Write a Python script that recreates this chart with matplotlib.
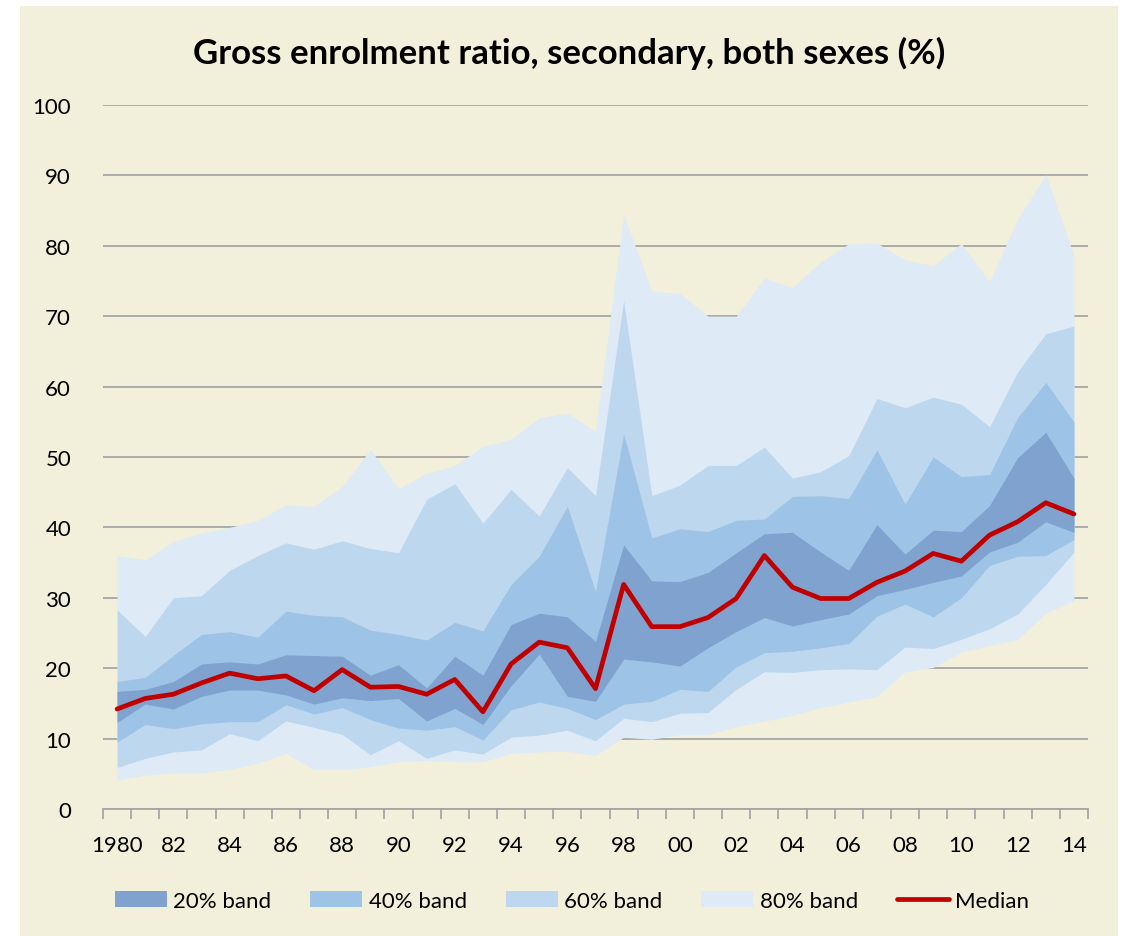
import numpy as np
import matplotlib
matplotlib.use("Agg")
import matplotlib.pyplot as plt
from matplotlib.patches import Rectangle
from matplotlib.ticker import MultipleLocator, FixedLocator

plt.rcParams["font.family"] = ["Lato", "DejaVu Sans"]

years = list(range(1980, 2015))
tick_labels = ["1980"] + ["%02d" % (y % 100) for y in range(1982, 2015, 2)]

# percentile boundaries of the bands
p10 = [4.1, 4.8, 5.1, 5.1, 5.6, 6.5, 7.9, 5.6, 5.6, 6.0, 6.7, 6.9, 6.7, 6.7, 7.9, 8.1, 8.2, 7.6,
       10.2, 9.9, 10.6, 10.6, 11.7, 12.5, 13.3, 14.4, 15.2, 16.0, 19.5, 20.1, 22.3, 23.2, 24.1, 27.8, 29.6]
p20 = [5.9, 7.2, 8.1, 8.4, 10.7, 9.7, 12.5, 11.6, 10.6, 7.7, 9.7, 7.2, 8.4, 7.8, 10.2, 10.5, 11.2, 9.7,
       12.9, 12.4, 13.6, 13.7, 17.0, 19.5, 19.4, 19.8, 19.9, 19.8, 23.0, 22.8, 24.1, 25.6, 27.7, 31.9, 36.5]
p30 = [9.5, 12.0, 11.4, 12.1, 12.4, 12.4, 14.8, 13.5, 14.4, 12.7, 11.5, 11.2, 11.7, 9.8, 14.1, 15.2, 14.3, 12.7,
       14.9, 15.3, 17.0, 16.7, 20.2, 22.2, 22.4, 22.9, 23.5, 27.4, 29.1, 27.3, 30.0, 34.6, 35.9, 36.0, 38.3]
p40 = [12.3, 14.9, 14.2, 16.0, 16.9, 16.9, 16.2, 14.9, 15.8, 15.4, 15.7, 12.5, 14.3, 12.0, 17.5, 22.0, 16.0, 15.3,
       21.3, 20.9, 20.3, 22.9, 25.2, 27.2, 26.0, 26.9, 27.7, 30.3, 31.2, 32.2, 33.1, 36.5, 37.9, 40.8, 39.3]
median = [14.2, 15.7, 16.3, 17.9, 19.3, 18.5, 18.9, 16.8, 19.8, 17.3, 17.4, 16.3, 18.4, 13.8, 20.6, 23.7, 22.9, 17.1,
          31.9, 25.9, 25.9, 27.2, 29.9, 36.0, 31.5, 29.9, 29.9, 32.2, 33.8, 36.3, 35.2, 38.9, 40.8, 43.5, 41.9]
p60 = [16.7, 17.0, 18.1, 20.6, 20.9, 20.6, 21.9, 21.8, 21.7, 19.0, 20.5, 17.2, 21.7, 19.0, 26.2, 27.8, 27.3, 23.8,
       37.5, 32.4, 32.3, 33.6, 36.4, 39.1, 39.3, 36.5, 33.9, 40.4, 36.2, 39.6, 39.4, 43.1, 49.9, 53.5, 47.0]
p70 = [18.1, 18.7, 21.8, 24.8, 25.2, 24.4, 28.1, 27.5, 27.3, 25.4, 24.8, 24.0, 26.5, 25.3, 31.9, 35.9, 43.0, 30.9,
       53.3, 38.5, 39.8, 39.4, 41.0, 41.2, 44.4, 44.5, 44.1, 51.0, 43.3, 50.0, 47.2, 47.5, 55.6, 60.6, 55.0]
p80 = [28.3, 24.5, 30.0, 30.3, 33.9, 36.0, 37.8, 36.9, 38.1, 37.0, 36.4, 44.0, 46.2, 40.6, 45.4, 41.6, 48.5, 44.5,
       72.2, 44.5, 46.0, 48.8, 48.8, 51.4, 47.0, 47.9, 50.2, 58.3, 57.0, 58.5, 57.5, 54.3, 62.1, 67.5, 68.6]
p90 = [36.0, 35.4, 38.0, 39.2, 40.0, 41.0, 43.2, 43.0, 45.8, 51.1, 45.5, 47.7, 48.8, 51.5, 52.5, 55.6, 56.2, 53.6,
       84.4, 73.6, 73.2, 70.0, 70.0, 75.4, 74.1, 77.7, 80.3, 80.4, 78.0, 77.2, 80.3, 74.9, 83.8, 90.1, 78.6]

bg = "#F2F0DA"
grid_col = "#A6A6A6"

fig = plt.figure(figsize=(11.23, 9.37), dpi=100)
fig.patch.set_facecolor("white")
fig.patches.append(Rectangle((20 / 1123, 0), 1098 / 1123, 930 / 937,
                             transform=fig.transFigure, facecolor=bg, edgecolor="none", zorder=-10))

ax = fig.add_axes([103 / 1123, 127 / 937, 985 / 1123, 704 / 937])
ax.set_facecolor("none")

x = np.array(years)
ax.fill_between(x, p10, p90, color="#DEEAF6", lw=0, label="80% band", zorder=2)
ax.fill_between(x, p20, p80, color="#BDD7EE", lw=0, label="60% band", zorder=3)
ax.fill_between(x, p30, p70, color="#9DC3E6", lw=0, label="40% band", zorder=4)
ax.fill_between(x, p40, p60, color="#7FA3CE", lw=0, label="20% band", zorder=5)
ax.plot(x, median, color="#C00000", lw=3.4, label="Median", zorder=6, solid_capstyle="round")

ax.set_xlim(1979.5, 2014.5)
ax.set_ylim(0, 100)
ax.yaxis.set_major_locator(MultipleLocator(10))
ax.grid(axis="y", color=grid_col, lw=1.3, zorder=1)
ax.set_axisbelow(True)
ax.tick_params(axis="y", length=0, labelsize=16, pad=23)

ax.xaxis.set_major_locator(FixedLocator(list(range(1980, 2015, 2))))
ax.set_xticklabels(tick_labels)
ax.xaxis.set_minor_locator(FixedLocator([1979.5 + k for k in range(36)]))
ax.tick_params(axis="x", which="major", length=0, labelsize=16, pad=19)
ax.tick_params(axis="x", which="minor", length=7, width=1.3, color=grid_col, direction="out")

for s in ["top", "right", "left"]:
    ax.spines[s].set_visible(False)
ax.spines["bottom"].set_color(grid_col)
ax.spines["bottom"].set_linewidth(1.3)
ax.spines["bottom"].set_zorder(7)

fig.text(569 / 1123, 1 - 53 / 937, "Gross enrolment ratio, secondary, both sexes (%)",
         ha="center", va="center", fontsize=25, fontweight="bold")

handles, labels = ax.get_legend_handles_labels()
order = ["20% band", "40% band", "60% band", "80% band", "Median"]
hmap = dict(zip(labels, handles))
fig.legend([hmap[k] for k in order], order, loc="center", ncol=5,
           bbox_to_anchor=(572 / 1123, 1 - 902 / 937), frameon=False, fontsize=16,
           handlelength=2.35, handleheight=0.7, handletextpad=0.28, columnspacing=1.75)

fig.savefig("out.png", dpi=100, facecolor=fig.get_facecolor())
